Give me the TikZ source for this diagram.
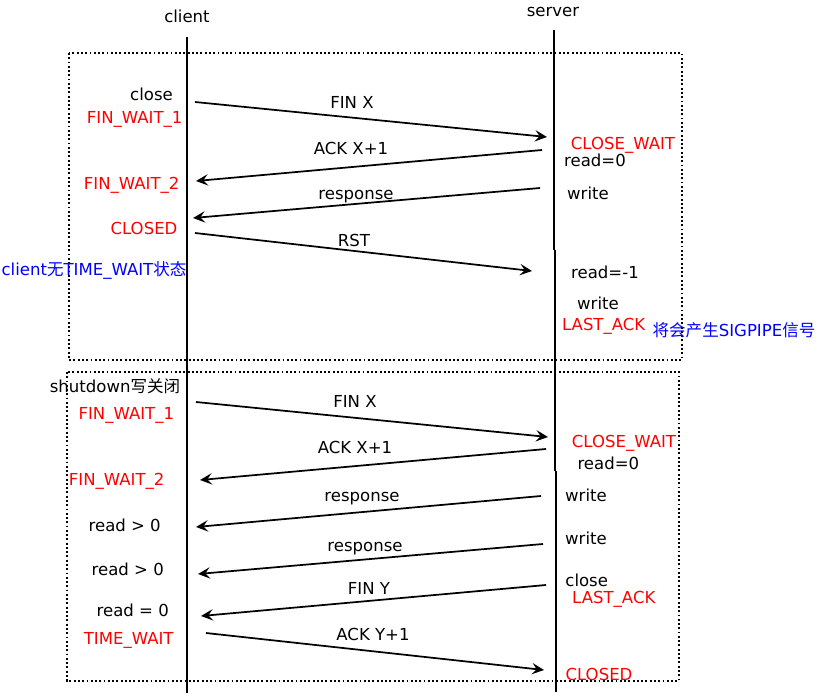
\documentclass[tikz,border=0pt]{standalone}
\usepackage{fontspec}
\setmainfont{DejaVu Sans}
\newfontfamily\cjk{Noto Sans CJK SC}
\usetikzlibrary{arrows.meta}

\tikzset{
  lbl/.style={inner sep=0pt, anchor=base, font=\fontsize{12.4}{15}\selectfont},
  state/.style={lbl, text=red},
  note/.style={lbl, text=blue},
  msg/.style={line width=1.3pt, -{Stealth[length=9pt,width=8.5pt,inset=3.5pt]}},
  life/.style={line width=1.6pt},
  frame/.style={line width=1.4pt, dash pattern=on 1.4pt off 1.8pt},
}

\begin{document}
\begin{tikzpicture}[x=0.75pt, y=-0.75pt]
\useasboundingbox (0,0) rectangle (819,697);

% frames
\draw[frame] (69,53) rectangle (682,360);
\draw[frame] (67,372) rectangle (679,681);

% lifelines
\node[lbl] (client) at (187,22) {client};
\node[lbl] (server) at (553,16) {server};
\coordinate (ctop) at (187,37);
\coordinate (cbot) at (187,693);
\draw[life] (ctop) -- (cbot);
\coordinate (stop) at (554,30);
\coordinate (sa) at (554,250);
\coordinate (sb) at (555,250);
\coordinate (sc) at (555,471);
\coordinate (sd) at (556,471);
\coordinate (sbot) at (556,692);
\draw[life] (stop) -- (sa);
\draw[life] (sb) -- (sc);
\draw[life] (sd) -- (sbot);

% close
\node[lbl] (close1) at (151.5,100) {close};
\node[state] (fw1a) at (134.7,123) {FIN\_WAIT\_1};
\node[state] (fw2a) at (131.7,189.3) {FIN\_WAIT\_2};
\node[state] (closeda) at (144,234.3) {CLOSED};
\node[note] (notime) at (94,275) {client{\cjk 无}TIME\_WAIT{\cjk 状态}};
\node[state] (cwa) at (623,149) {CLOSE\_WAIT};
\node[lbl] (rd0a) at (595,166.7) {read=0};
\node[lbl] (wra) at (588,199) {write};
\node[lbl] (rdm1) at (605,278.3) {read=-1};
\node[lbl] (wrb) at (598,309.3) {write};
\node[state] (laa) at (603.7,330) {LAST\_ACK};
\node[note] (sigpipe) at (734,336) {{\cjk 将会产生}SIGPIPE{\cjk 信号}};

\coordinate (m1s) at (195,102);   \coordinate (m1e) at (547,137);
\coordinate (m2s) at (542,150);   \coordinate (m2e) at (196,181);
\coordinate (m3s) at (540,188);   \coordinate (m3e) at (193,218);
\coordinate (m4s) at (195,233);   \coordinate (m4e) at (532,271);
\draw[msg] (m1s) -- (m1e);
\draw[msg] (m2s) -- (m2e);
\draw[msg] (m3s) -- (m3e);
\draw[msg] (m4s) -- (m4e);
\node[lbl] (finxa) at (352,108) {FIN X};
\node[lbl] (ackxa) at (351,154.3) {ACK X+1};
\node[lbl] (respa) at (356,199.5) {response};
\node[lbl] (rst) at (354,246.7) {RST};

% shutdown
\node[lbl] (shut) at (115,392.7) {shutdown{\cjk 写关闭}};
\node[state] (fw1b) at (126.3,419.3) {FIN\_WAIT\_1};
\node[state] (fw2b) at (116.7,485.7) {FIN\_WAIT\_2};
\node[lbl] (rdpa) at (124.7,531) {read > 0};
\node[lbl] (rdpb) at (127.8,575.7) {read > 0};
\node[lbl] (rdz) at (132.8,616) {read = 0};
\node[state] (tw) at (128.7,644) {TIME\_WAIT};
\node[state] (cwb) at (624,447.3) {CLOSE\_WAIT};
\node[lbl] (rd0b) at (608.3,469) {read=0};
\node[lbl] (wrc) at (586,501.7) {write};
\node[lbl] (wrd) at (586,544) {write};
\node[lbl] (close2) at (586.7,586.7) {close};
\node[state] (lab) at (613.8,603.3) {LAST\_ACK};
\node[state] (closedb) at (599,680.7) {CLOSED};

\coordinate (n1s) at (196,402);   \coordinate (n1e) at (548,437);
\coordinate (n2s) at (546,449);   \coordinate (n2e) at (200,480);
\coordinate (n3s) at (541,496);   \coordinate (n3e) at (196,527);
\coordinate (n4s) at (543,544);   \coordinate (n4e) at (198,574);
\coordinate (n5s) at (546,585);   \coordinate (n5e) at (201,616);
\coordinate (n6s) at (206,633);   \coordinate (n6e) at (544,670);
\draw[msg] (n1s) -- (n1e);
\draw[msg] (n2s) -- (n2e);
\draw[msg] (n3s) -- (n3e);
\draw[msg] (n4s) -- (n4e);
\draw[msg] (n5s) -- (n5e);
\draw[msg] (n6s) -- (n6e);
\node[lbl] (finxb) at (355,407.7) {FIN X};
\node[lbl] (ackxb) at (355,453.3) {ACK X+1};
\node[lbl] (respb) at (362,501.7) {response};
\node[lbl] (respc) at (365,551.7) {response};
\node[lbl] (finy) at (369,594.3) {FIN Y};
\node[lbl] (acky) at (373,640) {ACK Y+1};
\end{tikzpicture}
\end{document}
